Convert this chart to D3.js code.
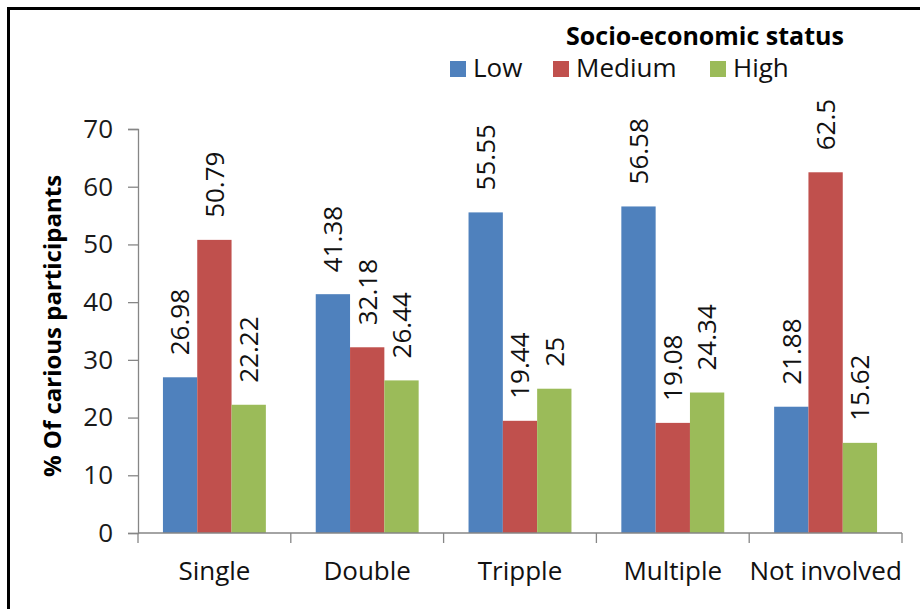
<!DOCTYPE html>
<html>
<head>
<meta charset="utf-8">
<script src="https://cdn.jsdelivr.net/npm/d3@7"></script>
<style>
  html, body { margin: 0; padding: 0; background: #fff; }
  svg { display: block; font-family: "Open Sans", "Liberation Sans", sans-serif; }
</style>
</head>
<body>
<svg id="chart" width="920" height="609"></svg>
<script>
// Carious participants by tooth-involvement type and socio-economic status
const categories = ["Single", "Double", "Tripple", "Multiple", "Not involved"];
const seriesNames = ["Low", "Medium", "High"];
const lowValues = [26.98, 41.38, 55.55, 56.58, 21.88];
const mediumValues = [50.79, 32.18, 19.44, 19.08, 62.5];
const highValues = [22.22, 26.44, 25, 24.34, 15.62];
const yTicks = [0, 10, 20, 30, 40, 50, 60, 70];
const seriesColors = ["#4F81BD", "#C0504D", "#9BBB59"];

const seriesValues = [lowValues, mediumValues, highValues];
const rows = categories.map((c, i) => ({
  category: c,
  values: seriesNames.map((s, j) => ({ series: s, value: seriesValues[j][i], color: seriesColors[j] }))
}));

const svg = d3.select("#chart");
const plot = { left: 138, right: 902, top: 129, bottom: 533 };

// outer frame
svg.append("rect")
  .attr("x", 8.5).attr("y", 8.5)
  .attr("width", 940).attr("height", 640)
  .attr("fill", "none").attr("stroke", "#000").attr("stroke-width", 3);

const x0 = d3.scaleBand().domain(categories).range([plot.left, plot.right]).paddingInner(0).paddingOuter(0);
const x1 = d3.scaleBand().domain(seriesNames).range([0, x0.bandwidth()]).paddingInner(0).paddingOuter(0.727);
const y = d3.scaleLinear().domain([0, 70]).range([plot.bottom, plot.top]);

const axisColor = "#868686";

// y axis
const yAxis = svg.append("g")
  .attr("transform", `translate(${plot.left},0)`)
  .call(d3.axisLeft(y).tickValues(yTicks).tickSize(10).tickPadding(15).tickFormat(d3.format("d")));
yAxis.select(".domain").attr("stroke", axisColor).attr("stroke-width", 1.3);
yAxis.selectAll(".tick line").attr("stroke", axisColor).attr("stroke-width", 1.3);
yAxis.selectAll(".tick text")
  .attr("fill", "#1a1a1a")
  .style("font-size", "26px")
  .style("font-family", "'Open Sans', sans-serif");

// bars
const groups = svg.append("g").selectAll("g")
  .data(rows).join("g")
  .attr("transform", d => `translate(${x0(d.category)},0)`);

groups.selectAll("rect")
  .data(d => d.values).join("rect")
  .attr("x", d => x1(d.series))
  .attr("y", d => y(d.value))
  .attr("width", x1.bandwidth())
  .attr("height", d => y(0) - y(d.value))
  .attr("fill", d => d.color);

// rotated value labels above each bar
groups.selectAll("text")
  .data(d => d.values).join("text")
  .attr("transform", d => `translate(${x1(d.series) + x1.bandwidth() / 2},${y(d.value) - 22}) rotate(-90)`)
  .attr("dy", "0.36em")
  .attr("text-anchor", "start")
  .attr("fill", "#111")
  .style("font-size", "26px")
  .text(d => String(d.value));

// x axis: baseline, boundary ticks, centred category labels
const xAxis = svg.append("g").attr("transform", `translate(0,${plot.bottom})`);
xAxis.append("line")
  .attr("x1", plot.left).attr("x2", plot.right)
  .attr("stroke", axisColor).attr("stroke-width", 1.3);
const bounds = categories.map(c => x0(c)).concat([plot.right]);
xAxis.selectAll("line.tick")
  .data(bounds).join("line")
  .attr("class", "tick")
  .attr("x1", d => d).attr("x2", d => d)
  .attr("y1", 0).attr("y2", 10)
  .attr("stroke", axisColor).attr("stroke-width", 1.3);
xAxis.selectAll("text")
  .data(categories).join("text")
  .attr("x", d => x0(d) + x0.bandwidth() / 2)
  .attr("y", 47)
  .attr("text-anchor", "middle")
  .attr("fill", "#111")
  .style("font-size", "26px")
  .text(d => d);

// y axis title
svg.append("text")
  .attr("transform", "translate(61,326) rotate(-90)")
  .attr("text-anchor", "middle")
  .attr("fill", "#000")
  .style("font-size", "24px")
  .style("font-weight", "bold")
  .text("% Of carious participants");

// legend
svg.append("text")
  .attr("x", 705).attr("y", 45)
  .attr("text-anchor", "middle")
  .attr("fill", "#000")
  .style("font-size", "25px")
  .style("font-weight", "bold")
  .text("Socio-economic status");

const legendX = [450, 553, 710];
const legend = svg.append("g").selectAll("g")
  .data(seriesNames).join("g")
  .attr("transform", (d, i) => `translate(${legendX[i]},0)`);
legend.append("rect")
  .attr("x", 0).attr("y", 61)
  .attr("width", 16).attr("height", 16)
  .attr("fill", (d, i) => seriesColors[i]);
legend.append("text")
  .attr("x", 23).attr("y", 77)
  .attr("fill", "#111")
  .style("font-size", "26px")
  .text(d => d);
</script>
</body>
</html>
